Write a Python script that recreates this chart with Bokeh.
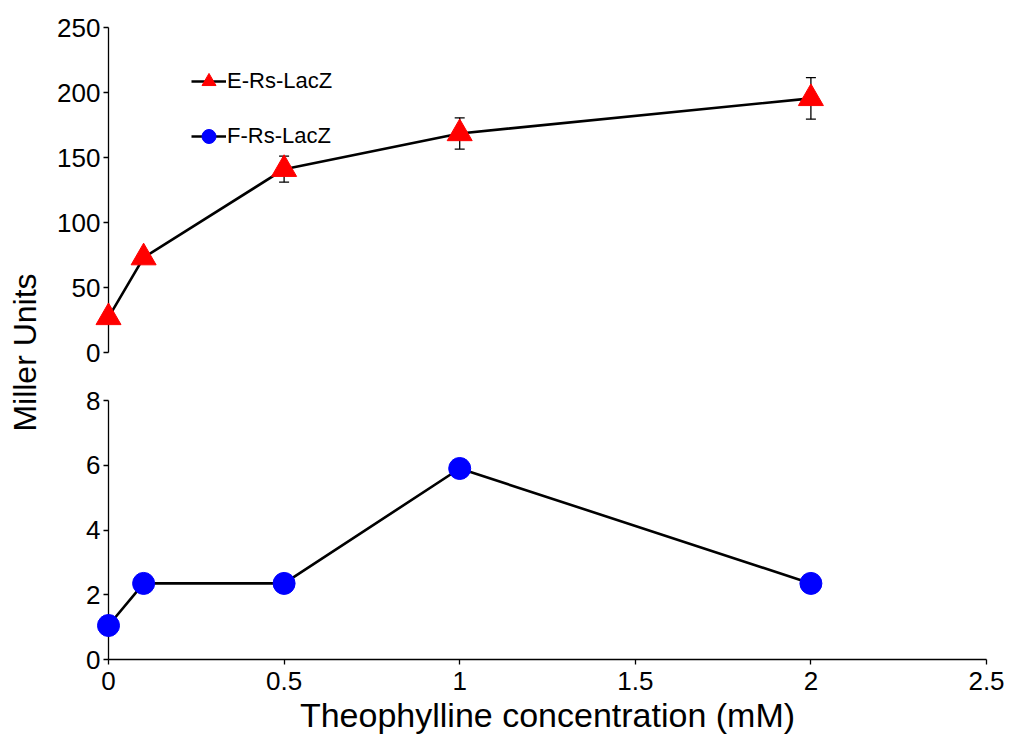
import math
from bokeh.plotting import figure
from bokeh.layouts import row, column
from bokeh.models import (Range1d, FixedTicker, Legend, LegendItem, Whisker,
                          ColumnDataSource, Label)
from bokeh.embed import file_html
from bokeh.resources import INLINE

# ---------------- data ----------------
conc = [0, 0.1, 0.5, 1, 2]
e_rs_lacz = [27, 73, 141, 168.5, 195.5]
e_rs_lacz_err = [0, 0, 10, 12, 16]
f_rs_lacz = [1.05, 2.35, 2.35, 5.9, 2.35]

x_ticks = [0, 0.5, 1, 1.5, 2, 2.5]
x_tick_labels = ["0", "0.5", "1", "1.5", "2", "2.5"]
top_y_ticks = [0, 50, 100, 150, 200, 250]
bot_y_ticks = [0, 2, 4, 6, 8]

x_title = "Theophylline concentration (mM)"
y_title = "Miller Units"
series_names = ["E-Rs-LacZ", "F-Rs-LacZ"]

FONT = "Liberation Sans"

xr = Range1d(0, 2.5)


def style_axes(p):
    for ax in p.axis:
        ax.axis_line_color = "black"
        ax.axis_line_width = 1.3
        ax.major_tick_line_color = "black"
        ax.major_tick_line_width = 1.3
        ax.major_tick_out = 5
        ax.major_tick_in = 0
        ax.minor_tick_line_color = None
        ax.major_label_text_font = FONT
        ax.major_label_text_font_size = "26px"
        ax.major_label_text_color = "black"
        ax.axis_label_text_font = FONT
        ax.axis_label_text_font_style = "normal"
        ax.axis_label_text_color = "black"
    p.grid.visible = False
    p.outline_line_color = None


# ---------------- top panel ----------------
top = figure(width=961, height=376, x_range=xr, y_range=Range1d(0, 250),
             output_backend="svg", toolbar_location=None,
             x_axis_location=None, min_border_left=58, min_border_right=25,
             min_border_top=27, min_border_bottom=24)
top.yaxis.ticker = FixedTicker(ticks=top_y_ticks)
top.yaxis.major_label_standoff = 3
style_axes(top)

src_e = ColumnDataSource(dict(x=conc, y=e_rs_lacz,
                              up=[v + e for v, e in zip(e_rs_lacz, e_rs_lacz_err)],
                              lo=[v - e for v, e in zip(e_rs_lacz, e_rs_lacz_err)]))
wh = Whisker(base="x", upper="up", lower="lo", source=src_e,
             line_color="black", line_width=1.3)
wh.upper_head.size = 10
wh.lower_head.size = 10
wh.upper_head.line_width = 1.3
wh.lower_head.line_width = 1.3
top.add_layout(wh)

le = top.line("x", "y", source=src_e, line_color="black", line_width=2.6, level="overlay")
se = top.scatter("x", "y", source=src_e, marker="triangle", size=25,
                 fill_color="red", line_color="red", level="overlay")

# legend-only renderers for the second series (a single NaN point, nothing drawn)
src_f_leg = ColumnDataSource(dict(x=[float("nan")], y=[float("nan")]))
lf_leg = top.line("x", "y", source=src_f_leg, line_color="black", line_width=2.6)
sf_leg = top.scatter("x", "y", source=src_f_leg, marker="circle", size=22,
                     fill_color="blue", line_color="blue")

legend = Legend(items=[LegendItem(label=series_names[0], renderers=[le, se]),
                       LegendItem(label=series_names[1], renderers=[lf_leg, sf_leg])],
                location=(83, 197), orientation="vertical",
                padding=0, margin=0, spacing=17,
                glyph_width=35, glyph_height=38, label_height=38,
                label_standoff=1, border_line_alpha=0, background_fill_alpha=0,
                label_text_font=FONT, label_text_font_size="22px",
                label_text_color="black")
top.add_layout(legend, "center")

# ---------------- bottom panel ----------------
bot = figure(width=961, height=360, x_range=xr, y_range=Range1d(0, 8),
             output_backend="svg", toolbar_location=None,
             min_border_left=58, min_border_right=25,
             min_border_top=24, min_border_bottom=74)
bot.yaxis.ticker = FixedTicker(ticks=bot_y_ticks)
bot.xaxis.ticker = FixedTicker(ticks=x_ticks)
bot.xaxis.major_label_overrides = {float(t): s for t, s in zip(x_ticks, x_tick_labels)}
bot.yaxis.major_label_standoff = 3
bot.xaxis.major_label_standoff = 7
bot.xaxis.axis_label = x_title
style_axes(bot)
bot.xaxis.axis_label_text_font_size = "34px"
bot.xaxis.axis_label_standoff = 3

src_f = ColumnDataSource(dict(x=conc, y=f_rs_lacz))
bot.line("x", "y", source=src_f, line_color="black", line_width=2.6, level="overlay")
bot.scatter("x", "y", source=src_f, marker="circle", size=22,
            fill_color="blue", line_color="blue", level="overlay")

# ---------------- shared y title ----------------
lab = figure(width=50, height=736, output_backend="svg", toolbar_location=None,
             x_axis_location=None, y_axis_location=None,
             min_border=0, x_range=Range1d(0, 1), y_range=Range1d(0, 1))
lab.grid.visible = False
lab.outline_line_color = None
lab.add_layout(Label(x=24, y=384, x_units="screen", y_units="screen",
                     text=y_title, angle=math.pi / 2, text_align="center",
                     text_baseline="middle", text_font=FONT,
                     text_font_size="32px", text_color="black"))

layout = row(lab, column(top, bot, spacing=0), spacing=0)

open("out.html", "w").write(file_html(layout, INLINE))
